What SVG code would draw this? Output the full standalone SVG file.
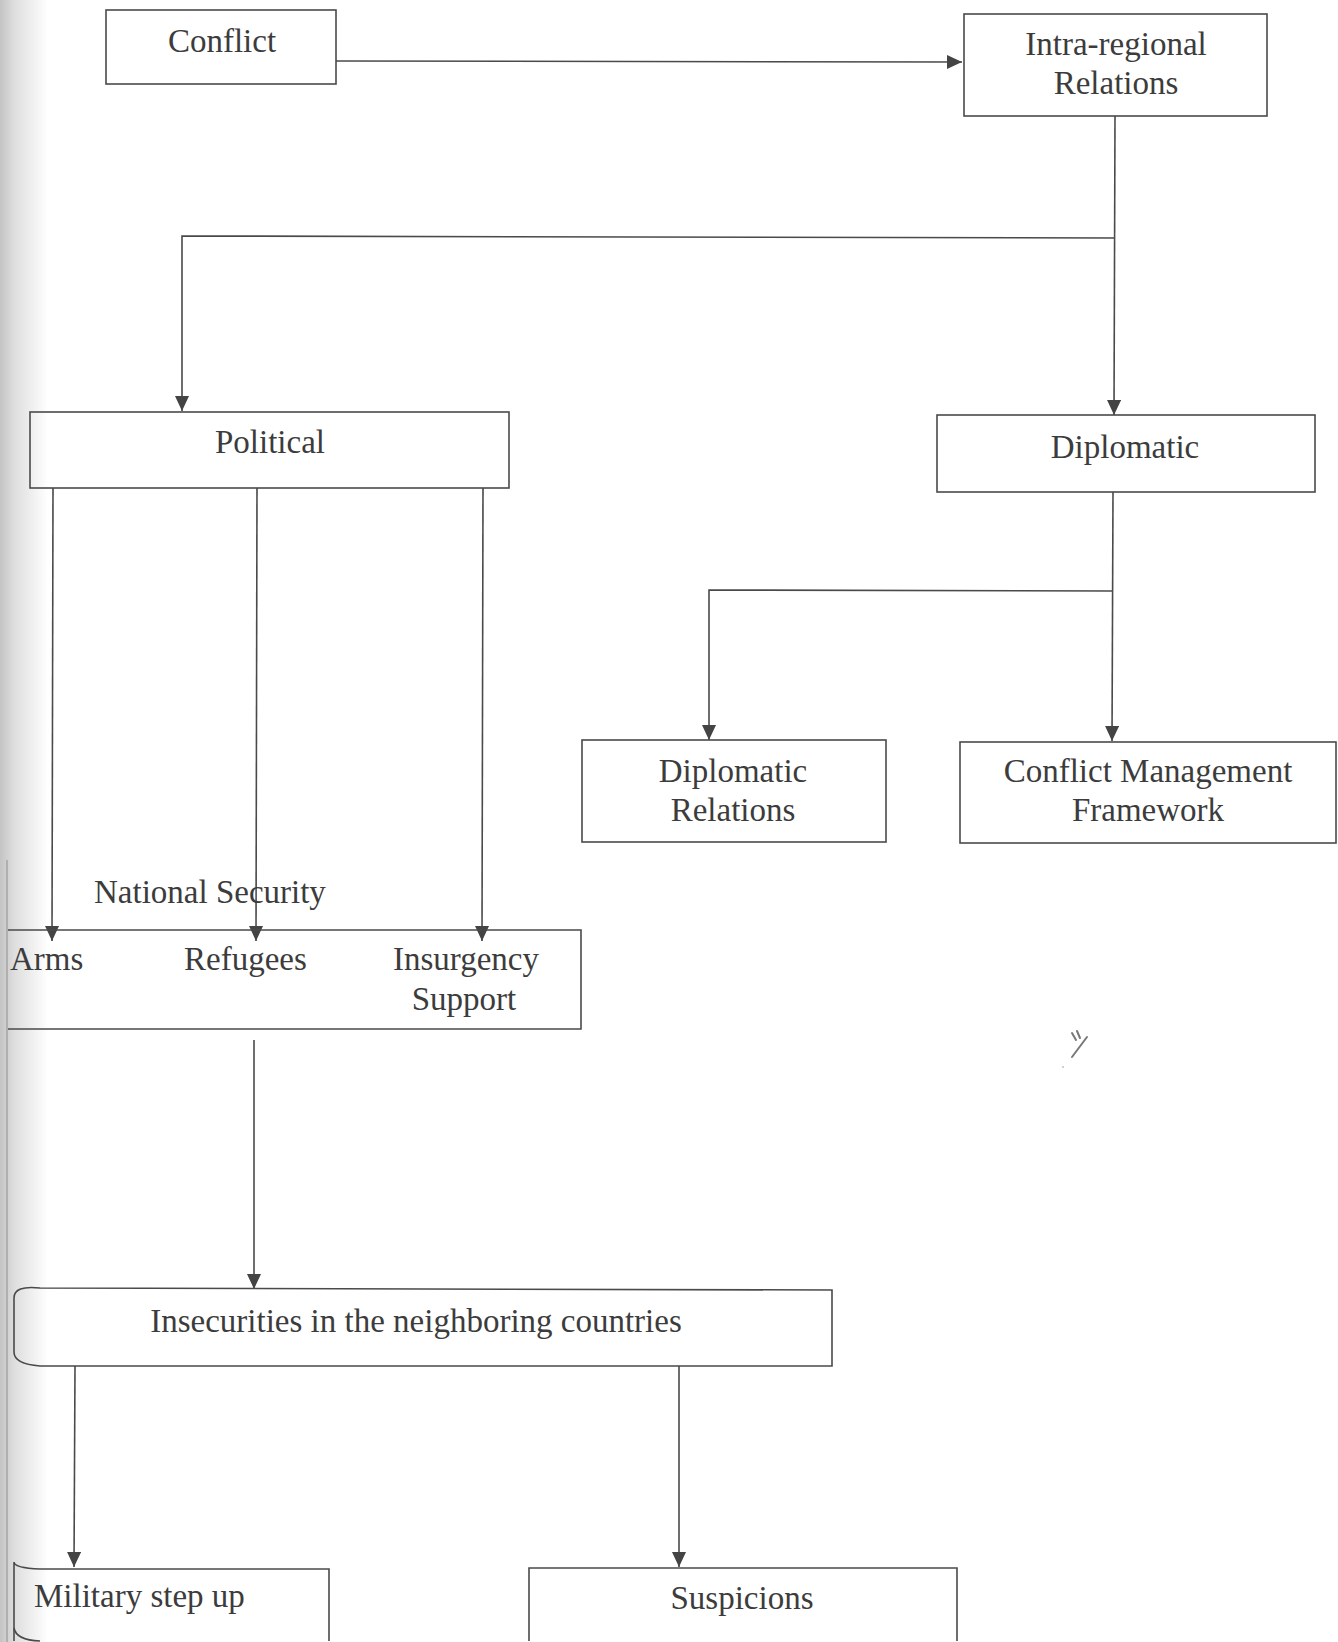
<svg xmlns="http://www.w3.org/2000/svg" width="1338" height="1642" viewBox="0 0 1338 1642">
<style>
.box{fill:none;stroke:#4a4a4a;stroke-width:1.6}
.t{font-family:"Liberation Serif","Times New Roman",serif;font-size:33px;fill:#3c3c3c}
.c{text-anchor:middle}
.ln{fill:none;stroke:#4a4a4a;stroke-width:1.6}
</style>
<defs>
<linearGradient id="edge" x1="0" y1="0" x2="1" y2="0">
<stop offset="0" stop-color="#c4c4c4"/>
<stop offset="0.3" stop-color="#dedede"/>
<stop offset="1" stop-color="#ffffff"/>
</linearGradient>
<marker id="ah" markerUnits="userSpaceOnUse" markerWidth="16" markerHeight="16" refX="15" refY="7" orient="auto">
<path d="M0,0 L15,7 L0,14 z" fill="#444"/>
</marker>
</defs>
<rect width="1338" height="1642" fill="#fff"/>
<rect x="0" y="0" width="48" height="1642" fill="url(#edge)"/>
<line x1="7" y1="860" x2="7" y2="1642" stroke="#b0b0b0" stroke-width="2"/>

<g id="connectors">
<path class="ln" d="M336,61 L962,62" marker-end="url(#ah)"/>
<path class="ln" d="M1115,116 L1114,415" marker-end="url(#ah)"/>
<path class="ln" d="M1115,238 L182,236 L182,411" marker-end="url(#ah)"/>
<path class="ln" d="M1113,492 L1112,741" marker-end="url(#ah)"/>
<path class="ln" d="M1113,591 L709,590 L709,740" marker-end="url(#ah)"/>
<path class="ln" d="M53,488 L52,941" marker-end="url(#ah)"/>
<path class="ln" d="M257,488 L256,941" marker-end="url(#ah)"/>
<path class="ln" d="M483,488 L482,941" marker-end="url(#ah)"/>
<path class="ln" d="M254,1040 L254,1289" marker-end="url(#ah)"/>
<path class="ln" d="M75,1366 L74,1567" marker-end="url(#ah)"/>
<path class="ln" d="M679,1366 L679,1567" marker-end="url(#ah)"/>
</g>

<g id="conflict">
<rect class="box" x="106" y="10" width="230" height="74"/>
<text class="t c" x="222" y="52">Conflict</text>
</g>
<g id="intra-regional">
<rect class="box" x="964" y="14" width="303" height="102"/>
<text class="t c" x="1116" y="55">Intra-regional</text>
<text class="t c" x="1116" y="94">Relations</text>
</g>
<g id="political">
<rect class="box" x="30" y="412" width="479" height="76"/>
<text class="t c" x="270" y="453">Political</text>
</g>
<g id="diplomatic">
<rect class="box" x="937" y="415" width="378" height="77"/>
<text class="t c" x="1125" y="458">Diplomatic</text>
</g>
<g id="diplomatic-relations">
<rect class="box" x="582" y="740" width="304" height="102"/>
<text class="t c" x="733" y="782">Diplomatic</text>
<text class="t c" x="733" y="821">Relations</text>
</g>
<g id="conflict-management">
<rect class="box" x="960" y="742" width="376" height="101"/>
<text class="t c" x="1148" y="782">Conflict Management</text>
<text class="t c" x="1148" y="821">Framework</text>
</g>
<g id="national-security">
<text class="t" x="94" y="903">National Security</text>
<path class="box" d="M8,930 L581,930 L581,1029 L8,1029"/>
<text class="t" x="10" y="970">Arms</text>
<text class="t" x="184" y="970">Refugees</text>
<text class="t c" x="466" y="970">Insurgency</text>
<text class="t c" x="464" y="1010">Support</text>
</g>
<g id="insecurities">
<path class="box" d="M14,1298 Q14,1285 40,1288 L832,1290 L832,1366 L40,1366 Q14,1364 14,1352 Z"/>
<text class="t c" x="416" y="1332">Insecurities in the neighboring countries</text>
</g>
<g id="military">
<path class="box" d="M14,1641 L14,1562 Q14,1568 40,1569 L329,1569 L329,1641"/>
<path class="box" d="M14,1628 Q16,1640 40,1641"/>
<text class="t" x="34" y="1607">Military step up</text>
</g>
<g id="suspicions">
<path class="box" d="M529,1641 L529,1568 L957,1568 L957,1641"/>
<text class="t c" x="742" y="1609">Suspicions</text>
</g>
<path d="M1072,1033 L1076,1040 M1077,1031 L1080,1038 M1087,1037 L1072,1057" fill="none" stroke="#777" stroke-width="2" stroke-linecap="round"/>
<circle cx="1063" cy="1067" r="0.8" fill="#999"/>
</svg>
